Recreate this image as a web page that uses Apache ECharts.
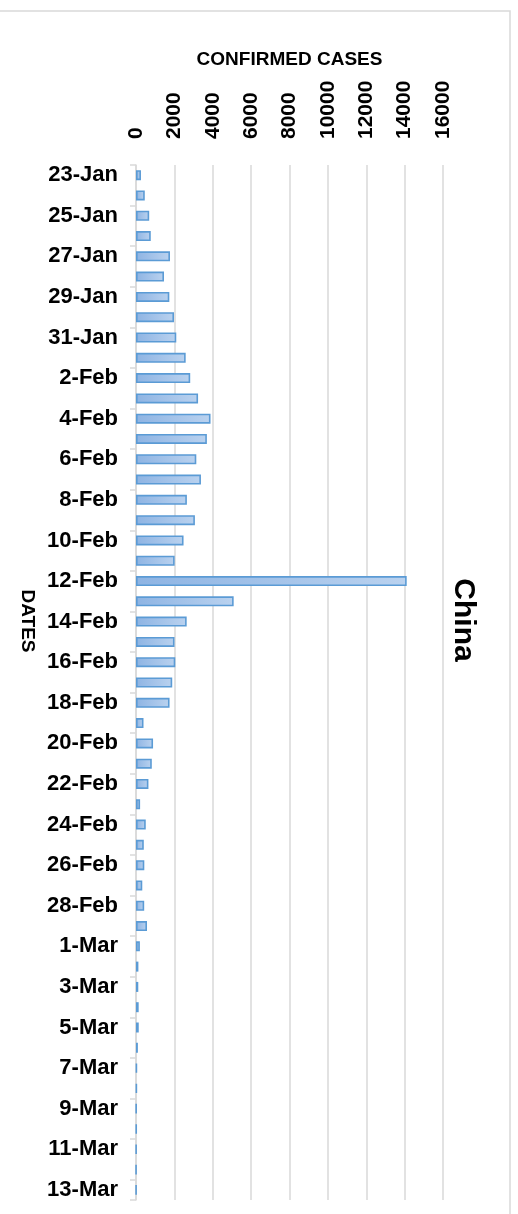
<!DOCTYPE html>
<html>
<head>
<meta charset="utf-8">
<script src="https://cdn.jsdelivr.net/npm/echarts@6/dist/echarts.min.js"></script>
<style>
  html, body { margin: 0; padding: 0; background: #fff; }
  #chart { width: 518px; height: 1214px; }
</style>
</head>
<body>
<div id="chart"></div>
<script>
var dates = [
    '23-Jan', '24-Jan', '25-Jan', '26-Jan', '27-Jan', '28-Jan', '29-Jan', '30-Jan', '31-Jan',
    '1-Feb', '2-Feb', '3-Feb', '4-Feb', '5-Feb', '6-Feb', '7-Feb', '8-Feb', '9-Feb', '10-Feb',
    '11-Feb', '12-Feb', '13-Feb', '14-Feb', '15-Feb', '16-Feb', '17-Feb', '18-Feb', '19-Feb',
    '20-Feb', '21-Feb', '22-Feb', '23-Feb', '24-Feb', '25-Feb', '26-Feb', '27-Feb', '28-Feb',
    '29-Feb', '1-Mar', '2-Mar', '3-Mar', '4-Mar', '5-Mar', '6-Mar', '7-Mar', '8-Mar', '9-Mar',
    '10-Mar', '11-Mar', '12-Mar', '13-Mar'
];

var confirmed = [
    259, 457, 688, 769, 1771, 1459, 1737, 1981, 2099,
    2589, 2825, 3235, 3884, 3694, 3143, 3385, 2652, 3070, 2478,
    2015, 14108, 5090, 2641, 2008, 2048, 1888, 1749, 391,
    889, 823, 648, 214, 508, 406, 433, 327, 427,
    573, 202, 125, 119, 139, 143, 99, 44, 40, 19,
    24, 15, 8, 11
];

var xMax = 16000;
var xStep = 2000;

var font = 'Liberation Sans';
var grey = '#d9d9d9';

var myChart = echarts.init(document.getElementById('chart'));

var option = {
    backgroundColor: '#fff',
    animation: false,
    grid: {
        left: 136,
        right: 75,
        top: 165,
        bottom: 14
    },
    graphic: [
        {
            type: 'rect',
            shape: { x: -2, y: 11, width: 512, height: 1215 },
            style: { fill: 'none', stroke: grey, lineWidth: 1.5 },
            silent: true
        },
        {
            type: 'text',
            x: 463,
            y: 620,
            rotation: -Math.PI / 2,
            style: {
                text: 'China',
                fill: '#000',
                font: 'bold 30px "Liberation Sans"',
                align: 'center',
                verticalAlign: 'middle'
            }
        },
        {
            // axis title for the dates, written top to bottom
            type: 'text',
            x: 27,
            y: 621,
            rotation: -Math.PI / 2,
            style: {
                text: 'DATES',
                fill: '#000',
                font: 'bold 19px "Liberation Sans"',
                align: 'center',
                verticalAlign: 'middle'
            }
        }
    ],
    xAxis: {
        type: 'value',
        position: 'top',
        min: 0,
        max: xMax,
        interval: xStep,
        name: 'CONFIRMED CASES',
        nameLocation: 'middle',
        nameGap: 96,
        nameTextStyle: {
            color: '#000',
            fontFamily: font,
            fontWeight: 'bold',
            fontSize: 19
        },
        axisLine: { show: false },
        axisTick: { show: false },
        axisLabel: {
            rotate: -90,
            margin: 26,
            color: '#000',
            fontFamily: font,
            fontWeight: 'bold',
            fontSize: 21,
            formatter: function (value) {
                return String(value);
            }
        },
        splitLine: {
            show: true,
            lineStyle: { color: grey, width: 1.5 }
        }
    },
    yAxis: {
        type: 'category',
        inverse: true,
        data: dates,
        axisLine: {
            show: true,
            lineStyle: { color: grey, width: 1.5 }
        },
        axisTick: {
            show: true,
            interval: 1,
            length: 6,
            lineStyle: { color: grey, width: 1.5 }
        },
        axisLabel: {
            interval: 1,
            margin: 18,
            color: '#000',
            fontFamily: font,
            fontWeight: 'bold',
            fontSize: 22
        },
        splitLine: { show: false }
    },
    series: [
        {
            name: 'Confirmed cases',
            type: 'bar',
            data: confirmed,
            barWidth: 10,
            itemStyle: {
                color: new echarts.graphic.LinearGradient(0, 0, 1, 0, [
                    { offset: 0, color: '#8eb4e3' },
                    { offset: 1, color: '#bad2ef' }
                ]),
                borderColor: '#5b9bd5',
                borderWidth: 1.6
            }
        }
    ]
};

myChart.setOption(option);
window.onresize = myChart.resize;
</script>
</body>
</html>
